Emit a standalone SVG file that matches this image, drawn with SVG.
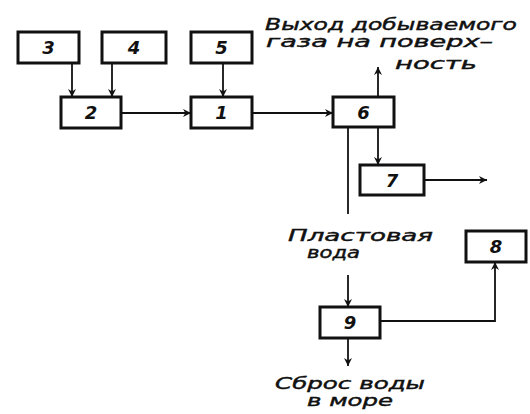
<svg xmlns="http://www.w3.org/2000/svg" width="530" height="414" viewBox="0 0 530 414">
  <defs>
    <marker id="arr" viewBox="0 0 10 10" refX="10" refY="5" markerWidth="11" markerHeight="8" markerUnits="userSpaceOnUse" orient="auto">
      <path d="M0,0 L10,5 L0,10 L3,5 Z" fill="#111"/>
    </marker>
    <style>
      .box { fill: #fff; stroke: #111; stroke-width: 3; }
      .num { font-family: "DejaVu Sans", sans-serif; font-style: italic; font-weight: bold; font-size: 18px; fill: #111; text-anchor: middle; }
      .lbl { font-family: "DejaVu Sans", sans-serif; font-style: italic; font-size: 15px; fill: #111; stroke: #111; stroke-width: 0.4; }
      .ln { fill: none; stroke: #111; stroke-width: 1.8; }
    </style>
  </defs>
  <rect width="530" height="414" fill="#fff"/>

  <g id="connectors">
    <line class="ln" x1="72" y1="63" x2="72" y2="97" marker-end="url(#arr)"/>
    <line class="ln" x1="112" y1="63" x2="112" y2="97" marker-end="url(#arr)"/>
    <line class="ln" x1="223" y1="63" x2="223" y2="97" marker-end="url(#arr)"/>
    <line class="ln" x1="121" y1="113" x2="191" y2="113" marker-end="url(#arr)"/>
    <line class="ln" x1="252" y1="113" x2="333" y2="113" marker-end="url(#arr)"/>
    <line class="ln" x1="378" y1="97" x2="378" y2="67" marker-end="url(#arr)"/>
    <line class="ln" x1="378" y1="127" x2="378" y2="165" marker-end="url(#arr)"/>
    <line class="ln" x1="348" y1="127" x2="348" y2="214"/>
    <line class="ln" x1="424" y1="180" x2="487" y2="180" marker-end="url(#arr)"/>
    <line class="ln" x1="348" y1="275" x2="348" y2="307" marker-end="url(#arr)"/>
    <line class="ln" x1="348" y1="338" x2="348" y2="366" marker-end="url(#arr)"/>
    <polyline class="ln" points="380,321 495,321 495,262" marker-end="url(#arr)"/>
  </g>

  <g id="node3"><rect class="box" x="18" y="32" width="61" height="31"/><text class="num" x="48.5" y="54">3</text></g>
  <g id="node4"><rect class="box" x="102" y="32" width="64" height="31"/><text class="num" x="134" y="54">4</text></g>
  <g id="node5"><rect class="box" x="191" y="32" width="61" height="31"/><text class="num" x="221.5" y="54">5</text></g>
  <g id="node2"><rect class="box" x="61" y="97" width="60" height="31"/><text class="num" x="91" y="119">2</text></g>
  <g id="node1"><rect class="box" x="191" y="97" width="61" height="31"/><text class="num" x="221.5" y="119">1</text></g>
  <g id="node6"><rect class="box" x="333" y="97" width="61" height="30"/><text class="num" x="363.5" y="118.5">6</text></g>
  <g id="node7"><rect class="box" x="360" y="165" width="64" height="30"/><text class="num" x="392" y="186.5">7</text></g>
  <g id="node8"><rect class="box" x="466" y="231" width="60" height="31"/><text class="num" x="496" y="253">8</text></g>
  <g id="node9"><rect class="box" x="320" y="307" width="60" height="31"/><text class="num" x="350" y="329">9</text></g>

  <g id="labels">
    <text class="lbl" x="265" y="30" textLength="252" lengthAdjust="spacingAndGlyphs">Выход добываемого</text>
    <text class="lbl" x="266" y="47" textLength="227" lengthAdjust="spacingAndGlyphs">газа на поверх–</text>
    <text class="lbl" x="395" y="69" textLength="82" lengthAdjust="spacingAndGlyphs">ность</text>
    <text class="lbl" x="288" y="241" textLength="145" lengthAdjust="spacingAndGlyphs">Пластовая</text>
    <text class="lbl" x="307" y="258" textLength="53" lengthAdjust="spacingAndGlyphs">вода</text>
    <text class="lbl" x="275" y="389" textLength="150" lengthAdjust="spacingAndGlyphs">Сброс воды</text>
    <text class="lbl" x="307" y="406" textLength="86" lengthAdjust="spacingAndGlyphs">в море</text>
  </g>
</svg>
